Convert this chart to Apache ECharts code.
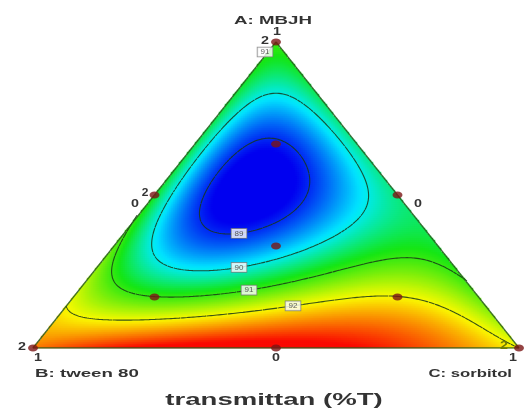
<!DOCTYPE html>
<html>
<head>
<meta charset="utf-8">
<title>transmittan (%T)</title>
<script src="https://cdn.jsdelivr.net/npm/echarts@6/dist/echarts.min.js"></script>
<style>
html, body { margin: 0; padding: 0; background: #fff; }
#main { width: 526px; height: 412px; }
</style>
</head>
<body>
<div id="main"></div>
<script>
// mixture design points (pseudo components A, B, C) and measured transmittance
const designA = [1, 0, 0, 0.5, 0.5, 0, 1 / 3, 2 / 3, 1 / 6, 1 / 6];
const designB = [0, 1, 0, 0.5, 0, 0.5, 1 / 3, 1 / 6, 2 / 3, 1 / 6];
const designC = [0, 0, 1, 0, 0.5, 0.5, 1 / 3, 1 / 6, 1 / 6, 2 / 3];
const transmittance = [91.0, 92.75, 92.0, 90.8, 90.4, 93.7, 89.6, 88.9, 91.0, 92.0];
const contourLevels = [89, 90, 91, 92];

// where the level labels sit (plot units, snapped to the nearest contour)
const labelSpots = [[91, 0.4774, 0.9673], [89, 0.4198, 0.4118], [90, 0.4198, 0.2941], [91, 0.4403, 0.2124], [92, 0.5329, 0.1634]];
const colorStops = [[88.8, [0, 0, 240]], [89.9, [0, 235, 255]], [90.8, [20, 230, 20]], [92.0, [250, 250, 0]], [93.4, [250, 10, 0]]];

const NX = 243, NY = 153;   // 2px cells

// special quartic mixture model, least squares fit on the design points
function terms(a, b, c) {
  return [a, b, c, a * b, a * c, b * c, a * a * b * c, a * b * b * c, a * b * c * c];
}
function fitModel() {
  const p = 9;
  const M = [], v = [];
  for (let r = 0; r < p; r++) { M.push(new Array(p).fill(0)); v.push(0); }
  designA.forEach((a, i) => {
    const row = terms(a, designB[i], designC[i]);
    for (let r = 0; r < p; r++) {
      for (let c = 0; c < p; c++) M[r][c] += row[r] * row[c];
      v[r] += row[r] * transmittance[i];
    }
  });
  for (let k = 0; k < p; k++) {
    let piv = k;
    for (let r = k + 1; r < p; r++) if (Math.abs(M[r][k]) > Math.abs(M[piv][k])) piv = r;
    [M[k], M[piv]] = [M[piv], M[k]];
    [v[k], v[piv]] = [v[piv], v[k]];
    for (let r = k + 1; r < p; r++) {
      const f = M[r][k] / M[k][k];
      for (let c = k; c < p; c++) M[r][c] -= f * M[k][c];
      v[r] -= f * v[k];
    }
  }
  const beta = new Array(p).fill(0);
  for (let k = p - 1; k >= 0; k--) {
    let s = v[k];
    for (let c = k + 1; c < p; c++) s -= M[k][c] * beta[c];
    beta[k] = s / M[k][k];
  }
  return beta;
}
const beta = fitModel();
function model(a, b, c) {
  return terms(a, b, c).reduce((s, t, i) => s + t * beta[i], 0);
}

// plot units: x = C + A/2, y = A
function toABC(x, y) {
  const a = y, c = x - y / 2;
  return [a, 1 - a - c, c];
}
function inside(x, y, tol) {
  const m = toABC(x, y);
  return m[1] >= -tol && m[2] >= -tol;
}

// heatmap cells
const xCats = [], yCats = [];
for (let i = 0; i < NX; i++) xCats.push(i);
for (let j = 0; j < NY; j++) yCats.push(j);
const cells = [];
for (let j = 0; j < NY; j++) {
  for (let i = 0; i < NX; i++) {
    const x = (i + 0.5) / NX, y = (j + 0.5) / NY;
    if (!inside(x, y, 0)) continue;
    const m = toABC(x, y);
    cells.push([i, j, model(m[0], m[1], m[2])]);
  }
}

// contour lines by marching squares
const nodes = [];
for (let j = 0; j <= NY; j++) {
  const row = [];
  for (let i = 0; i <= NX; i++) {
    const m = toABC(i / NX, j / NY);
    row.push(model(m[0], m[1], m[2]));
  }
  nodes.push(row);
}
function contour(level) {
  const segs = [];
  for (let j = 0; j < NY; j++) {
    for (let i = 0; i < NX; i++) {
      const x0 = i / NX, x1 = (i + 1) / NX, y0 = j / NY, y1 = (j + 1) / NY;
      const v = [nodes[j][i], nodes[j][i + 1], nodes[j + 1][i + 1], nodes[j + 1][i]];
      const p = [[x0, y0], [x1, y0], [x1, y1], [x0, y1]];
      const pts = [];
      for (let k = 0; k < 4; k++) {
        const k2 = (k + 1) % 4;
        const va = v[k] - level, vb = v[k2] - level;
        if ((va < 0) !== (vb < 0)) {
          const t = va / (va - vb);
          pts.push([p[k][0] + t * (p[k2][0] - p[k][0]), p[k][1] + t * (p[k2][1] - p[k][1])]);
        }
      }
      if (pts.length >= 2) segs.push([pts[0], pts[1]]);
      if (pts.length === 4) segs.push([pts[2], pts[3]]);
    }
  }
  return segs.filter(s => inside(s[0][0], s[0][1], 0.003) && inside(s[1][0], s[1][1], 0.003));
}
const contourSegs = {};
contourLevels.forEach(l => { contourSegs[l] = contour(l); });

function lineData(segs) {
  const d = [];
  segs.forEach(s => { d.push(s[0], s[1], null); });
  return d;
}

// snap label spots onto their contour
const labelData = labelSpots.map(([lv, x, y]) => {
  let best = [x, y], bd = 15 * 15;
  (contourSegs[lv] || []).forEach(s => {
    s.forEach(pt => {
      const dx = (pt[0] - x) * 486, dy = (pt[1] - y) * 306;
      const d = dx * dx + dy * dy;
      if (d < bd) { bd = d; best = pt; }
    });
  });
  return { value: [best[0], best[1]], name: String(lv) };
});

const dots = designA.map((a, i) => [designC[i] + a / 2, a]);
const frame = [0, 1, 2, 0].map(i => [designC[i] + designA[i] / 2, designA[i]]);

function rampColors(n) {
  const lo = colorStops[0][0], hi = colorStops[colorStops.length - 1][0];
  const out = [];
  for (let k = 0; k < n; k++) {
    const v = lo + (hi - lo) * k / (n - 1);
    let s = 0;
    while (s < colorStops.length - 2 && v > colorStops[s + 1][0]) s++;
    const a = colorStops[s], b = colorStops[s + 1];
    const t = Math.min(1, Math.max(0, (v - a[0]) / (b[0] - a[0])));
    const c = a[1].map((ch, q) => Math.round(ch + t * (b[1][q] - ch)));
    out.push('rgb(' + c.join(',') + ')');
  }
  return out;
}

const FONT = 'Liberation Sans, Arial, sans-serif';
function txt(text, x, y, opt) {
  opt = opt || {};
  return {
    type: 'text', x: x, y: y, z: 100,
    scaleX: opt.sx || 1.7,
    style: {
      text: text, fontFamily: FONT, fontSize: opt.size || 11, fontWeight: 'bold',
      fill: opt.color || '#333', align: opt.align || 'center', verticalAlign: 'middle'
    }
  };
}

const chart = echarts.init(document.getElementById('main'));
chart.setOption({
  backgroundColor: '#fff',
  animation: false,
  grid: [
    { left: 33, top: 42, width: 486, height: 306 },
    { left: 33, top: 42, width: 486, height: 306 }
  ],
  xAxis: [
    { gridIndex: 0, type: 'category', data: xCats, show: false },
    { gridIndex: 1, type: 'value', min: 0, max: 1, show: false }
  ],
  yAxis: [
    { gridIndex: 0, type: 'category', data: yCats, show: false },
    { gridIndex: 1, type: 'value', min: 0, max: 1, show: false }
  ],
  visualMap: {
    type: 'continuous', show: false, seriesIndex: 0, dimension: 2,
    min: colorStops[0][0], max: colorStops[colorStops.length - 1][0],
    inRange: { color: rampColors(49) }
  },
  series: [
    {
      type: 'heatmap', xAxisIndex: 0, yAxisIndex: 0, data: cells,
      progressive: 0, emphasis: { disabled: true }, silent: true, z: 1
    },
    ...contourLevels.map(l => ({
      type: 'line', xAxisIndex: 1, yAxisIndex: 1, data: lineData(contourSegs[l]),
      showSymbol: false, symbol: 'none', connectNulls: false, silent: true, z: 3,
      lineStyle: { color: 'rgba(25,55,25,0.85)', width: 1.1 }
    })),
    {
      type: 'line', xAxisIndex: 1, yAxisIndex: 1, data: frame,
      symbol: 'none', silent: true, z: 4,
      lineStyle: { color: 'rgba(40,90,30,0.85)', width: 1.3 }
    },
    {
      type: 'scatter', xAxisIndex: 1, yAxisIndex: 1, data: dots,
      symbol: 'circle', symbolSize: [10, 7], silent: true, z: 5,
      itemStyle: { color: '#7a1515' }
    },
    {
      type: 'scatter', xAxisIndex: 1, yAxisIndex: 1, data: labelData,
      symbolSize: 0, silent: true, z: 6,
      label: {
        show: true, position: 'inside', formatter: '{b}',
        fontFamily: FONT, fontSize: 8, color: '#333',
        backgroundColor: '#fff', borderColor: '#777', borderWidth: 0.8, padding: [1, 3, 0, 3]
      }
    }
  ],
  graphic: [
    txt('A: MBJH', 273, 21, { sx: 1.7 }),
    txt('1', 277, 32, { sx: 1.3 }),
    txt('2', 265, 41, { sx: 1.3 }),
    txt('0', 135, 204, { sx: 1.3 }),
    txt('2', 145, 193, { sx: 1.2, size: 10 }),
    txt('0', 418, 204, { sx: 1.3 }),
    txt('2', 22, 347, { sx: 1.3 }),
    txt('2', 504, 346, { sx: 1.3, color: '#6f7d00' }),
    txt('1', 38, 358, { sx: 1.3 }),
    txt('0', 276, 358, { sx: 1.3 }),
    txt('1', 513, 358, { sx: 1.3 }),
    txt('B: tween 80', 35, 374, { align: 'left', sx: 1.7 }),
    txt('C: sorbitol', 512, 374, { align: 'right', sx: 1.52 }),
    txt('transmittan (%T)', 274, 400, { size: 17, sx: 1.62 })
  ]
});
</script>
</body>
</html>
